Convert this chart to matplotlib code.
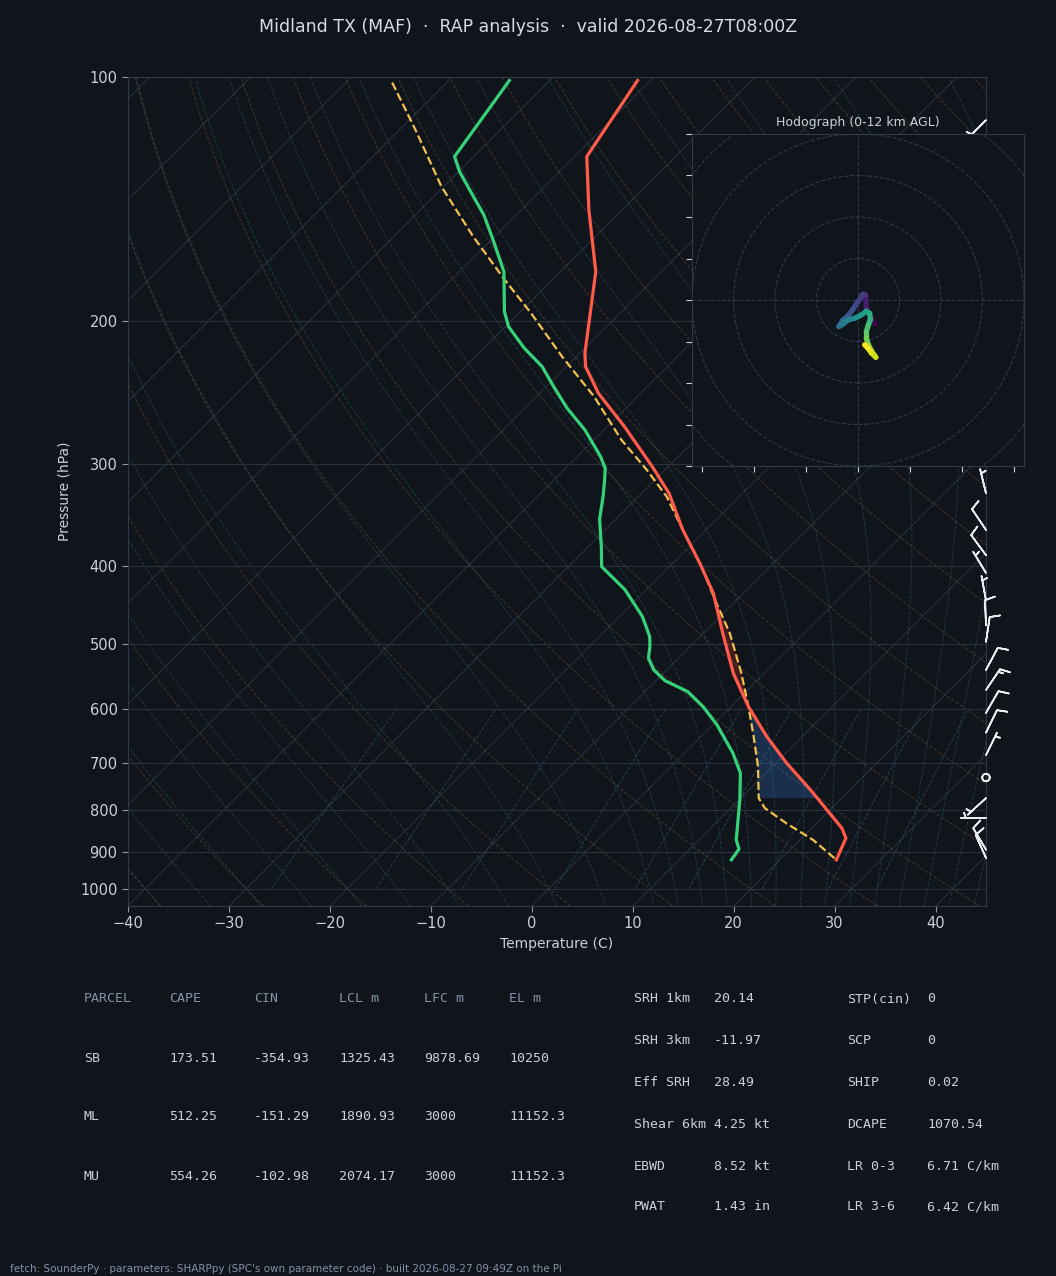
import numpy as np
import matplotlib
matplotlib.use("Agg")
import matplotlib.pyplot as plt
from matplotlib.collections import LineCollection
from matplotlib.ticker import FixedLocator, NullLocator, ScalarFormatter, NullFormatter
from matplotlib.patches import Circle

# --- sounding (hPa, degC) ---
p_env = [101, 125.3, 145.8, 173.7, 218.9, 227.4, 245.2, 269.6, 301.9, 325.6, 361.3,
         397.2, 432.4, 484.4, 542.5, 596.3, 649.4, 700.2, 755.2, 806.8, 841.8, 866.1, 921.1]
t_env = [-71.3, -68.8, -63.3, -56.5, -49.5, -48.1, -44.2, -38.3, -31.6, -27.3, -22.3,
         -17.3, -13.0, -8.1, -3.1, 1.7, 6.5, 11.1, 16.1, 20.3, 23.0, 24.4, 25.6]

p_dew = [101, 125.3, 130.8, 139.0, 147.9, 158.8, 173.7, 194.5, 203.0, 215.8, 227.4,
         240.6, 255.9, 272.1, 293.5, 303.3, 313.5, 328.7, 350.5, 379.0, 401.0, 428.1,
         462.1, 489.1, 503.0, 519.7, 537.5, 554.3, 571.5, 596.3, 628.1, 680.8, 720.2,
         777.1, 870.3, 893.7, 921.1]
t_dew = [-84.0, -81.9, -79.9, -76.6, -73.2, -69.8, -65.6, -61.6, -59.7, -56.0, -52.4,
         -49.3, -45.8, -41.9, -37.7, -36.1, -35.0, -33.5, -31.6, -28.7, -26.7, -22.1,
         -17.7, -15.0, -14.0, -13.0, -11.3, -9.1, -5.8, -2.8, 0.4, 4.8, 7.5,
         10.1, 13.7, 14.9, 15.2]

p_parcel = [101.6, 116.2, 136.5, 157.3, 177.8, 195.4, 221.1, 247.5, 279.9, 304.8, 328.7,
            361.3, 397.2, 444.8, 484.4, 542.5, 596.3, 643.0, 707.0, 773.3, 795.5, 830.2,
            870.3, 921.1]
t_parcel = [-95.4, -88.4, -80.2, -72.1, -64.7, -58.8, -51.4, -44.3, -37.3, -31.8, -27.2,
            -22.3, -17.3, -11.7, -7.4, -2.3, 1.7, 4.8, 8.6, 11.8, 13.4, 17.0,
            21.3, 25.6]
p_lcl = 773.3

# wind barbs (hPa, kt)
barb_p = [113, 325.6, 361.3, 388.2, 408.3, 441.4, 473.4, 496.2, 537.5, 569.0, 607.1,
          642.1, 684.4, 729.4, 773.0, 817.8, 895, 916]
barb_u = [3.5, 1.2, 5.6, 5.9, 2.6, 0.9, 0.4, -1.5, -4.7, -8.4, -5.0,
          -4.4, -2.2, 0.0, 3.7, 7.0, 5.1, 4.1]
barb_v = [3.5, -4.9, -8.3, -8.0, -4.3, -4.9, -10.0, -9.9, -8.8, -12.5, -8.7,
          -9.0, -4.5, 0.0, 3.4, 0.0, -8.6, -9.1]

# hodograph trace (kt), low levels first
hodo_u = [4.1, 3.0, 2.0, 1.8, 1.2, 0.0, -1.2, -2.4, -3.6, -4.6, -3.6, -2.4, -0.8,
          0.8, 2.0, 2.8, 3.0, 2.5, 2.0, 2.0, 2.5, 3.2, 4.3, 3.2, 2.4, 1.6]
hodo_v = [-5.8, -4.0, -1.8, 1.2, 1.4, -0.4, -2.2, -3.8, -4.8, -6.4, -5.8, -4.8, -4.4,
          -3.6, -2.7, -3.2, -4.7, -6.0, -7.6, -9.2, -10.8, -12.2, -13.8, -12.7, -11.6, -10.8]

# parameter tables
parcel_names = ['SB', 'ML', 'MU']
cape = [173.51, 512.25, 554.26]
cin = [-354.93, -151.29, -102.98]
lcl_m = [1325.43, 1890.93, 2074.17]
lfc_m = [9878.69, 3000, 3000]
el_m = [10250, 11152.3, 11152.3]

kin_labels = ['SRH 1km', 'SRH 3km', 'Eff SRH', 'Shear 6km', 'EBWD', 'PWAT']
kin_values = ['20.14', '-11.97', '28.49', '4.25 kt', '8.52 kt', '1.43 in']
idx_labels = ['STP(cin)', 'SCP', 'SHIP', 'DCAPE', 'LR 0-3', 'LR 3-6']
idx_values = ['0', '0', '0.02', '1070.54', '6.71 C/km', '6.42 C/km']

BG = '#10141b'
GRID = '#28313d'
TXT = '#c9d1d9'
MUTED = '#8492a6'

P_BOT, P_TOP = 1050.0, 100.0
T_MIN, T_MAX = -40, 45

W, H = 1056, 1276
fig = plt.figure(figsize=(W / 100, H / 100), dpi=100, facecolor=BG)
ax = fig.add_axes([128 / W, 1 - 906 / H, 858 / W, 829 / H], facecolor=BG)

# 45 degree skew for this axes size
ax_w, ax_h = 858.0, 829.0
SK = (ax_h / np.log10(P_BOT / P_TOP)) / (ax_w / (T_MAX - T_MIN))


def skx(t, p):
    return np.asarray(t) + SK * np.log10(P_BOT / np.asarray(p))


ax.set_yscale('log')
ax.set_ylim(P_BOT, P_TOP)
ax.set_xlim(T_MIN, T_MAX)
ax.yaxis.set_major_locator(FixedLocator(np.arange(100, 1001, 100)))
ax.yaxis.set_major_formatter(ScalarFormatter())
ax.yaxis.set_minor_locator(NullLocator())
ax.yaxis.set_minor_formatter(NullFormatter())
ax.set_xticks(np.arange(-40, 41, 10))
ax.yaxis.grid(True, color=GRID, lw=0.8)
ax.tick_params(colors='#8a96a6', labelcolor=TXT, labelsize=10.5, length=4)
for s in ax.spines.values():
    s.set_color('#2e3a48')
ax.set_xlabel('Temperature (C)', color=TXT, fontsize=10)
ax.set_ylabel('Pressure (hPa)', color=TXT, fontsize=10, labelpad=6)

# isotherms
pp = np.array([P_BOT, P_TOP])
for t in range(-200, 60, 10):
    ax.plot(skx([t, t], pp), pp, color=GRID, lw=0.8, zorder=1)

# dry adiabats
pgrid = np.geomspace(P_BOT, P_TOP, 200)
for t0 in np.arange(-40, 200, 10):
    tk = (t0 + 273.15) * (pgrid / 1000.0) ** 0.2857 - 273.15
    ax.plot(skx(tk, pgrid), pgrid, color='#5c4a34', lw=0.7, ls='--', alpha=0.65, zorder=1)

# moist adiabats
Rd, Cp, Lv, EPS = 287.04, 1005.7, 2.501e6, 0.622


def dtdlnp(tk, p):
    es = 6.112 * np.exp(17.67 * (tk - 273.15) / (tk - 29.65))
    rs = EPS * es / (p - es)
    return (Rd * tk + Lv * rs) / (Cp + Lv * Lv * rs * EPS / (Rd * tk * tk))


def moist_curve(t0, plev):
    lnp = np.log(plev)
    out = [t0]
    tk = t0
    for i in range(len(lnp) - 1):
        h = lnp[i + 1] - lnp[i]
        p0, p1 = plev[i], plev[i + 1]
        pm = np.exp(0.5 * (lnp[i] + lnp[i + 1]))
        k1 = dtdlnp(tk, p0)
        k2 = dtdlnp(tk + 0.5 * h * k1, pm)
        k3 = dtdlnp(tk + 0.5 * h * k2, pm)
        k4 = dtdlnp(tk + h * k3, p1)
        tk = tk + h / 6 * (k1 + 2 * k2 + 2 * k3 + k4)
        out.append(tk)
    return np.array(out)


moist_t0 = np.concatenate((np.arange(-50., 10.1, 5), np.arange(12.5, 45.1, 2.5))) + 273.15
p_up = np.geomspace(1000, P_TOP, 250)
p_dn = np.linspace(1000, P_BOT, 10)
for t0 in moist_t0:
    t_up = moist_curve(t0, p_up)
    t_dn = moist_curve(t0, p_dn)
    p_all = np.concatenate((p_dn[::-1], p_up[1:]))
    t_all = np.concatenate((t_dn[::-1], t_up[1:])) - 273.15
    ax.plot(skx(t_all, p_all), p_all, color='#2b4c57', lw=0.7, ls='--', alpha=0.65, zorder=1)

# mixing ratio lines
p_mix = np.linspace(1000, 600, 50)
for w in [0.0004, 0.001, 0.002, 0.004, 0.007, 0.01, 0.016, 0.024, 0.032]:
    e = p_mix * w / (EPS + w)
    le = np.log(e / 6.112)
    td = 243.5 * le / (17.67 - le)
    ax.plot(skx(td, p_mix), p_mix, color='#2a4a5e', lw=0.7, ls='--', alpha=0.8, zorder=1)

# CIN / CAPE shading between parcel and environment
pf = np.geomspace(p_lcl, 360, 300)
lp_env = np.log(p_env)
te_f = np.interp(np.log(pf), lp_env, t_env)
tp_f = np.interp(np.log(pf), np.log(p_parcel), t_parcel)
ax.fill_betweenx(pf, skx(tp_f, pf), skx(te_f, pf), where=te_f >= tp_f,
                 color='#3070c0', alpha=0.3, lw=0, interpolate=True, zorder=2)
ax.fill_betweenx(pf, skx(tp_f, pf), skx(te_f, pf), where=tp_f > te_f,
                 color='#ff4b3e', alpha=0.2, lw=0, interpolate=True, zorder=2)

# profiles
ax.plot(skx(t_parcel, p_parcel), p_parcel, color='#f2c14e', lw=1.6, ls='--', zorder=4)
ax.plot(skx(t_env, p_env), p_env, color='#ff5a4a', lw=2.3, zorder=5)
ax.plot(skx(t_dew, p_dew), p_dew, color='#35d27a', lw=2.3, zorder=5)

# wind barbs along the right edge
ax.barbs(np.ones(len(barb_p)), barb_p, barb_u, barb_v, transform=ax.get_yaxis_transform(),
         length=6, color='#e8edf2', lw=1.2, clip_on=False, zorder=6)

# hodograph inset
hx = fig.add_axes([692 / W, 1 - 466 / H, 332 / W, 332 / H], facecolor=BG, zorder=10)
hx.set_xlim(-40, 40)
hx.set_ylim(-40, 40)
for r in range(10, 70, 10):
    hx.add_patch(Circle((0, 0), r, fill=False, ec='#2e3a48', lw=0.8, ls='--'))
hx.axhline(0, color='#2e3a48', lw=0.8, ls='--')
hx.axvline(0, color='#2e3a48', lw=0.8, ls='--')
pts = np.column_stack([hodo_u, hodo_v])
segs = np.stack([pts[:-1], pts[1:]], axis=1)
lc = LineCollection(segs, cmap='viridis', lw=3.8, capstyle='round')
lc.set_array(np.arange(len(segs)))
hx.add_collection(lc)
hx.set_xticks(np.arange(-37.5, 40, 12.5))
hx.set_yticks(np.arange(-40, 41, 10))
hx.set_xticklabels([])
hx.set_yticklabels([])
hx.tick_params(colors='#c9d1d9', length=4)
for s in hx.spines.values():
    s.set_color('#2e3a48')
hx.set_title('Hodograph (0-12 km AGL)', color=TXT, fontsize=9, pad=6)

fig.text(0.5, 1 - 27 / H, 'Midland TX (MAF)  ·  RAP analysis  ·  valid 2026-08-27T08:00Z',
         ha='center', va='center', color='#d6dce3', fontsize=12.5)

# parcel table
mono = 'DejaVu Sans Mono'
col_x = [84, 169, 254, 339, 424, 509]
heads = ['PARCEL', 'CAPE', 'CIN', 'LCL m', 'LFC m', 'EL m']
for x, h in zip(col_x, heads):
    fig.text(x / W, 1 - 999 / H, h, color=MUTED, fontsize=9.5, family=mono, va='center')
for i, name in enumerate(parcel_names):
    y = 1 - (1058 + 59 * i) / H
    row = [name] + ['{:g}'.format(v[i]) for v in (cape, cin, lcl_m, lfc_m, el_m)]
    for x, s in zip(col_x, row):
        fig.text(x / W, y, s, color=TXT, fontsize=9.5, family=mono, va='center')

# kinematic / index table
row_y = [999, 1041, 1083, 1124, 1166, 1207]
for i in range(len(kin_labels)):
    y = 1 - row_y[i] / H
    fig.text(634 / W, y, kin_labels[i], color=TXT, fontsize=9.5, family=mono, va='center')
    fig.text(714 / W, y, kin_values[i], color=TXT, fontsize=9.5, family=mono, va='center')
    fig.text(847 / W, y, idx_labels[i], color=TXT, fontsize=9.5, family=mono, va='center')
    fig.text(927 / W, y, idx_values[i], color=TXT, fontsize=9.5, family=mono, va='center')

fig.text(10 / W, 1 - 1269 / H,
         "fetch: SounderPy · parameters: SHARPpy (SPC's own parameter code) · built 2026-08-27 09:49Z on the Pi",
         color=MUTED, fontsize=7.5, va='center')

fig.savefig('out.png', dpi=100, facecolor=BG)
